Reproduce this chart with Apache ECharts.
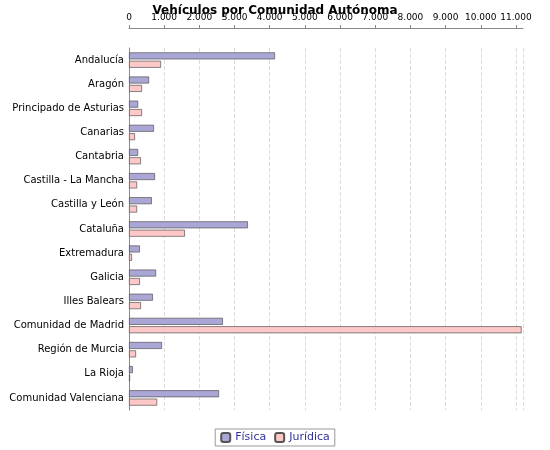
<!DOCTYPE html>
<html>
<head>
<meta charset="utf-8">
<script src="https://cdn.jsdelivr.net/npm/echarts@6/dist/echarts.min.js"></script>
<style>body{margin:0}#c{width:550px;height:450px}</style>
</head>
<body>
<div id="c"></div>
<script>
// Vehículos por Comunidad Autónoma
let comunidades = ["Andalucía", "Aragón", "Principado de Asturias", "Canarias", "Cantabria",
    "Castilla - La Mancha", "Castilla y León", "Cataluña", "Extremadura", "Galicia",
    "Illes Balears", "Comunidad de Madrid", "Región de Murcia", "La Rioja", "Comunidad Valenciana"];
let fisica = [4150, 570, 260, 710, 260, 740, 650, 3380, 310, 770, 680, 2670, 940, 110, 2560];
let juridica = [910, 370, 370, 170, 340, 230, 230, 1590, 85, 310, 340, 11160, 200, 30, 800];

let chart = echarts.init(document.getElementById("c"));

function fmt(v) {
    return String(v).replace(/\B(?=(\d{3})+(?!\d))/g, ".");
}

chart.setOption({
    animation: false,
    title: {
        text: "Vehículos por Comunidad Autónoma",
        left: "center", top: 0,
        textStyle: {fontFamily: "DejaVu Sans", fontSize: 12, fontWeight: "bold", color: "#000"}
    },
    legend: {
        bottom: 4, left: "center",
        itemWidth: 9, itemHeight: 9, itemGap: 8,
        borderColor: "#999", borderWidth: 1, padding: [3, 5], borderRadius: 0,
        textStyle: {fontFamily: "DejaVu Sans", fontSize: 11, color: "#333399"},
        data: ["Física", "Jurídica"]
    },
    grid: {left: 129, right: 27, top: 48, bottom: 40},
    xAxis: {
        type: "value", position: "top", min: 0, max: 11200, interval: 1000, offset: 20,
        axisLine: {show: true, lineStyle: {color: "#888"}},
        axisTick: {show: true, length: 3, lineStyle: {color: "#888"}},
        axisLabel: {formatter: fmt, fontFamily: "DejaVu Sans", fontSize: 9, color: "#000", margin: 6},
        splitLine: {lineStyle: {color: "#ddd", type: "dashed"}}
    },
    yAxis: {
        type: "category", inverse: true, data: comunidades,
        axisLine: {lineStyle: {color: "#888"}},
        axisTick: {show: false},
        axisLabel: {fontFamily: "DejaVu Sans", fontSize: 10, color: "#000", margin: 5}
    },
    series: [
        {name: "Física", type: "bar", data: fisica, barWidth: 7, barGap: "20%",
         itemStyle: {color: "#aaa6d6", borderColor: "#555", borderWidth: 0.7}},
        {name: "Jurídica", type: "bar", data: juridica, barWidth: 7,
         itemStyle: {color: "#ffc8c8", borderColor: "#555", borderWidth: 0.7}}
    ]
});
</script>
</body>
</html>
